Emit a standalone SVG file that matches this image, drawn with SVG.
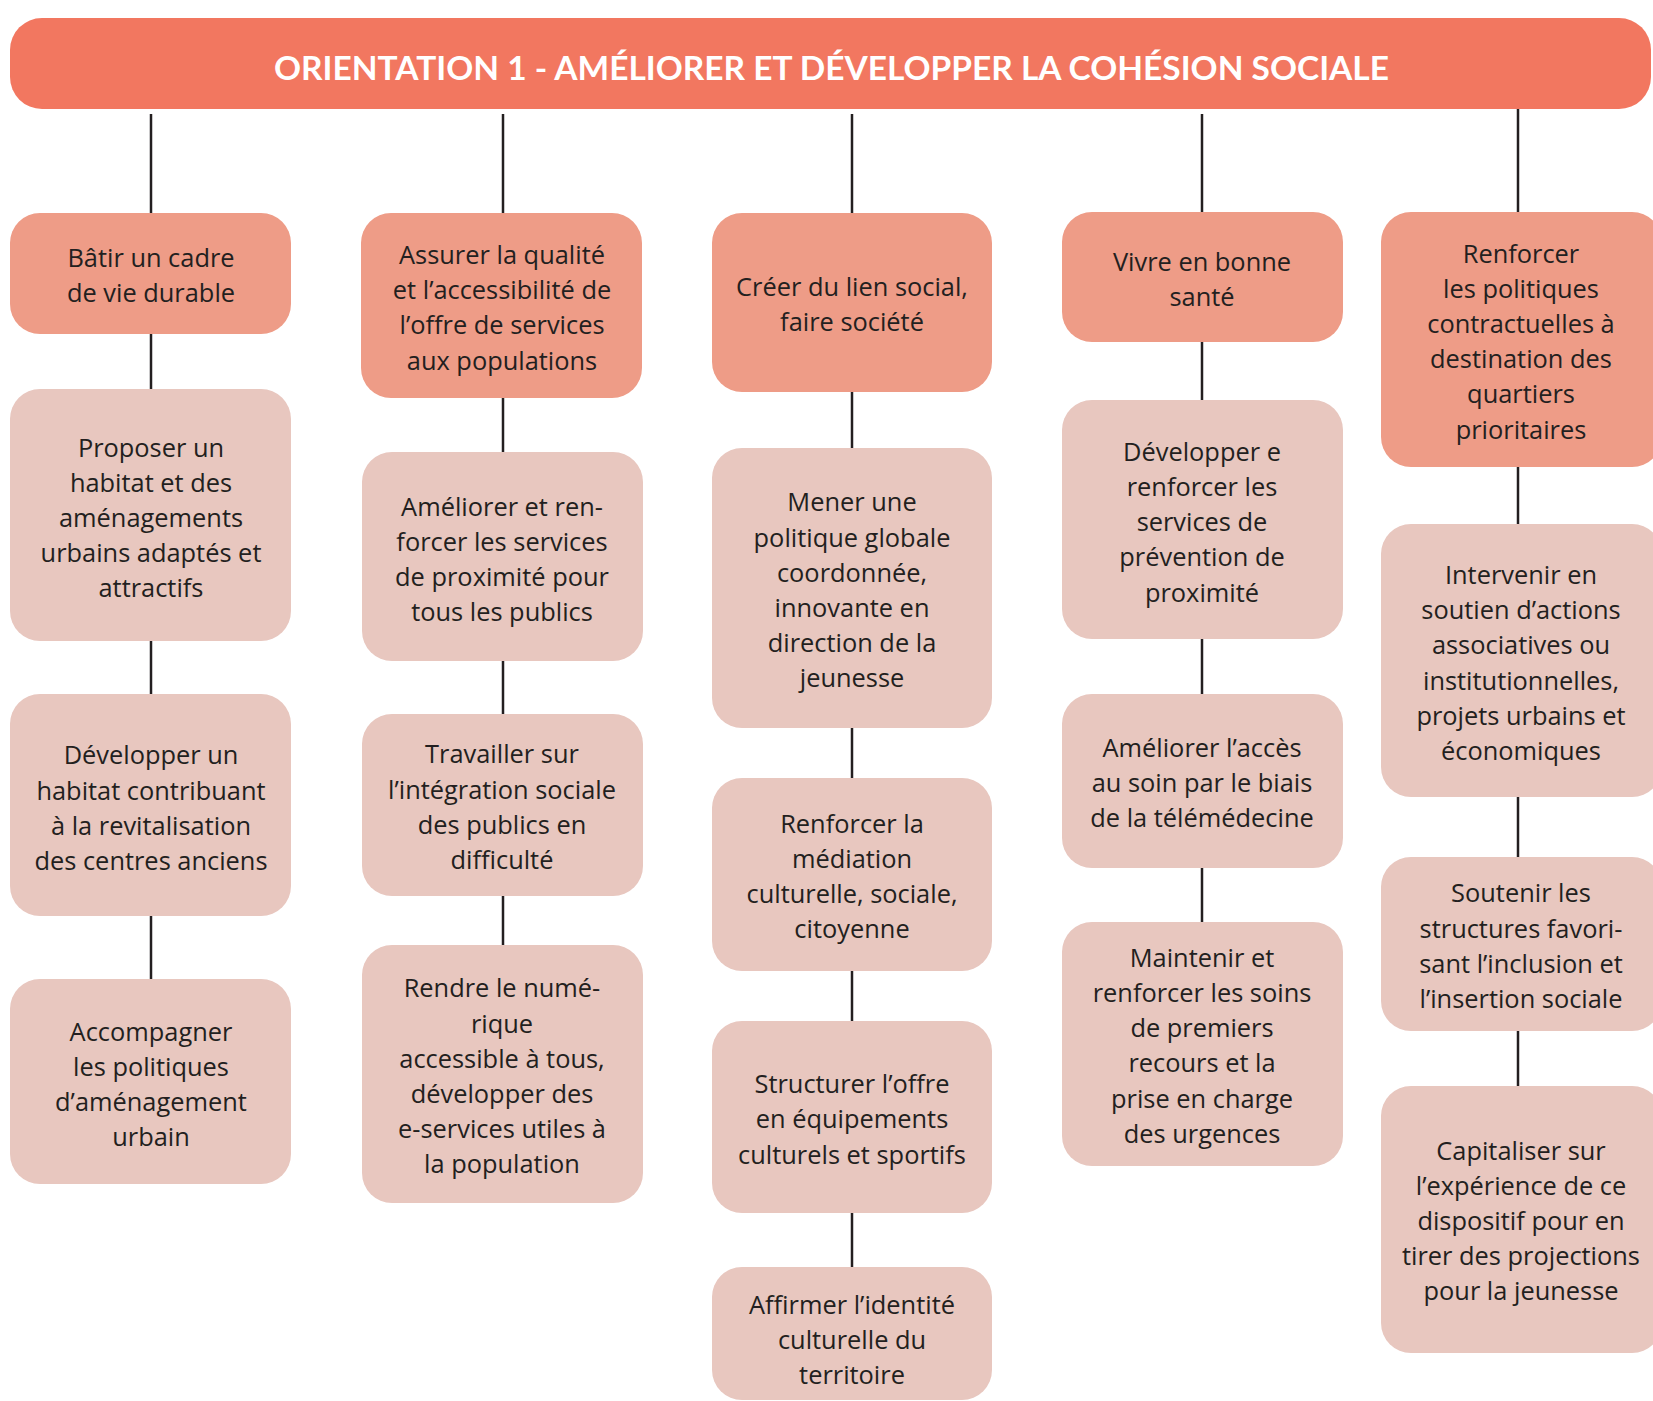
<svg xmlns="http://www.w3.org/2000/svg" width="1653" height="1401" viewBox="0 0 1653 1401">
<style>
.hdr{fill:#F27760}
.l1{fill:#EE9C87}
.l2{fill:#E8C7BF}
.t{font-family:"Open Sans","Liberation Sans",sans-serif;font-size:25.4px;fill:#231F20;text-anchor:middle}
.ht{font-family:Lato,"Liberation Sans",sans-serif;font-weight:700;font-size:32px;fill:#FFFFFF;text-anchor:middle}
.c line{stroke:#231F20;stroke-width:2.5}
</style>
<rect width="1653" height="1401" fill="#FFFFFF"/>
<g class="c" id="connectors">
<line x1="151" y1="114" x2="151" y2="213"/><line x1="151" y1="334" x2="151" y2="389"/><line x1="151" y1="641" x2="151" y2="694"/><line x1="151" y1="916" x2="151" y2="979"/>
<line x1="503" y1="114" x2="503" y2="213"/><line x1="503" y1="398" x2="503" y2="452"/><line x1="503" y1="661" x2="503" y2="714"/><line x1="503" y1="896" x2="503" y2="945"/>
<line x1="852" y1="114" x2="852" y2="213"/><line x1="852" y1="392" x2="852" y2="448"/><line x1="852" y1="728" x2="852" y2="778"/><line x1="852" y1="971" x2="852" y2="1021"/><line x1="852" y1="1213" x2="852" y2="1267"/>
<line x1="1202" y1="114" x2="1202" y2="212"/><line x1="1202" y1="342" x2="1202" y2="400"/><line x1="1202" y1="639" x2="1202" y2="694"/><line x1="1202" y1="868" x2="1202" y2="922"/>
<line x1="1518" y1="109" x2="1518" y2="212"/><line x1="1518" y1="467" x2="1518" y2="524"/><line x1="1518" y1="797" x2="1518" y2="857"/><line x1="1518" y1="1031" x2="1518" y2="1086"/>
</g>
<g id="header">
<rect class="hdr" x="10" y="18" width="1641" height="91" rx="32"/>
<text class="ht" x="831.5" y="80" textLength="1115" lengthAdjust="spacingAndGlyphs">ORIENTATION 1 - AMÉLIORER ET DÉVELOPPER LA COHÉSION SOCIALE</text>
</g>
<g id="b1"><rect class="l1" x="10" y="213" width="281" height="121" rx="30"/>
<text class="t"><tspan x="151" y="266.7">Bâtir un cadre</tspan><tspan x="151" y="301.9">de vie durable</tspan></text></g>
<g id="b2"><rect class="l2" x="10" y="389" width="281" height="252" rx="30"/>
<text class="t"><tspan x="151" y="456.5">Proposer un</tspan><tspan x="151" y="491.7">habitat et des</tspan><tspan x="151" y="526.9">aménagements</tspan><tspan x="151" y="562.1">urbains adaptés et</tspan><tspan x="151" y="597.3">attractifs</tspan></text></g>
<g id="b3"><rect class="l2" x="10" y="694" width="281" height="222" rx="30"/>
<text class="t"><tspan x="151" y="764.3">Développer un</tspan><tspan x="151" y="799.5">habitat contribuant</tspan><tspan x="151" y="834.7">à la revitalisation</tspan><tspan x="151" y="869.9">des centres anciens</tspan></text></g>
<g id="b4"><rect class="l2" x="10" y="979" width="281" height="205" rx="30"/>
<text class="t"><tspan x="151" y="1040.5">Accompagner</tspan><tspan x="151" y="1075.7">les politiques</tspan><tspan x="151" y="1110.9">d’aménagement</tspan><tspan x="151" y="1146.1">urbain</tspan></text></g>
<g id="a1"><rect class="l1" x="361" y="213" width="281" height="185" rx="30"/>
<text class="t"><tspan x="502" y="264">Assurer la qualité</tspan><tspan x="502" y="299.2">et l’accessibilité de</tspan><tspan x="502" y="334.4">l’offre de services</tspan><tspan x="502" y="369.6">aux populations</tspan></text></g>
<g id="a2"><rect class="l2" x="362" y="452" width="281" height="209" rx="30"/>
<text class="t"><tspan x="502" y="515.5">Améliorer et ren-</tspan><tspan x="502" y="550.7">forcer les services</tspan><tspan x="502" y="585.9">de proximité pour</tspan><tspan x="502" y="621.1">tous les publics</tspan></text></g>
<g id="a3"><rect class="l2" x="362" y="714" width="281" height="182" rx="30"/>
<text class="t"><tspan x="502" y="763.3">Travailler sur</tspan><tspan x="502" y="798.5">l’intégration sociale</tspan><tspan x="502" y="833.7">des publics en</tspan><tspan x="502" y="868.9">difficulté</tspan></text></g>
<g id="a4"><rect class="l2" x="362" y="945" width="281" height="258" rx="30"/>
<text class="t"><tspan x="502" y="997.3">Rendre le numé-</tspan><tspan x="502" y="1032.5">rique</tspan><tspan x="502" y="1067.7">accessible à tous,</tspan><tspan x="502" y="1102.9">développer des</tspan><tspan x="502" y="1138.1">e-services utiles à</tspan><tspan x="502" y="1173.3">la population</tspan></text></g>
<g id="c1"><rect class="l1" x="712" y="213" width="280" height="179" rx="30"/>
<text class="t"><tspan x="852" y="296.2">Créer du lien social,</tspan><tspan x="852" y="331.4">faire société</tspan></text></g>
<g id="c2"><rect class="l2" x="712" y="448" width="280" height="280" rx="30"/>
<text class="t"><tspan x="852" y="511.3">Mener une</tspan><tspan x="852" y="546.5">politique globale</tspan><tspan x="852" y="581.7">coordonnée,</tspan><tspan x="852" y="616.9">innovante en</tspan><tspan x="852" y="652.1">direction de la</tspan><tspan x="852" y="687.3">jeunesse</tspan></text></g>
<g id="c3"><rect class="l2" x="712" y="778" width="280" height="193" rx="30"/>
<text class="t"><tspan x="852" y="832.8">Renforcer la</tspan><tspan x="852" y="868">médiation</tspan><tspan x="852" y="903.2">culturelle, sociale,</tspan><tspan x="852" y="938.4">citoyenne</tspan></text></g>
<g id="c4"><rect class="l2" x="712" y="1021" width="280" height="192" rx="30"/>
<text class="t"><tspan x="852" y="1093.2">Structurer l’offre</tspan><tspan x="852" y="1128.4">en équipements</tspan><tspan x="852" y="1163.6">culturels et sportifs</tspan></text></g>
<g id="c5"><rect class="l2" x="712" y="1267" width="280" height="133" rx="30"/>
<text class="t"><tspan x="852" y="1313.5">Affirmer l’identité</tspan><tspan x="852" y="1348.7">culturelle du</tspan><tspan x="852" y="1383.9">territoire</tspan></text></g>
<g id="d1"><rect class="l1" x="1062" y="212" width="281" height="130" rx="30"/>
<text class="t"><tspan x="1202" y="270.9">Vivre en bonne</tspan><tspan x="1202" y="306.1">santé</tspan></text></g>
<g id="d2"><rect class="l2" x="1062" y="400" width="281" height="239" rx="30"/>
<text class="t"><tspan x="1202" y="460.7">Développer e</tspan><tspan x="1202" y="495.9">renforcer les</tspan><tspan x="1202" y="531.1">services de</tspan><tspan x="1202" y="566.3">prévention de</tspan><tspan x="1202" y="601.5">proximité</tspan></text></g>
<g id="d3"><rect class="l2" x="1062" y="694" width="281" height="174" rx="30"/>
<text class="t"><tspan x="1202" y="756.9">Améliorer l’accès</tspan><tspan x="1202" y="792.1">au soin par le biais</tspan><tspan x="1202" y="827.3">de la télémédecine</tspan></text></g>
<g id="d4"><rect class="l2" x="1062" y="922" width="281" height="244" rx="30"/>
<text class="t"><tspan x="1202" y="966.7">Maintenir et</tspan><tspan x="1202" y="1001.9">renforcer les soins</tspan><tspan x="1202" y="1037.1">de premiers</tspan><tspan x="1202" y="1072.3">recours et la</tspan><tspan x="1202" y="1107.5">prise en charge</tspan><tspan x="1202" y="1142.7">des urgences</tspan></text></g>
<g id="e1"><rect class="l1" x="1381" y="212" width="281" height="255" rx="30"/>
<text class="t"><tspan x="1521" y="262.5">Renforcer</tspan><tspan x="1521" y="297.7">les politiques</tspan><tspan x="1521" y="332.9">contractuelles à</tspan><tspan x="1521" y="368.1">destination des</tspan><tspan x="1521" y="403.3">quartiers</tspan><tspan x="1521" y="438.5">prioritaires</tspan></text></g>
<g id="e2"><rect class="l2" x="1381" y="524" width="281" height="273" rx="30"/>
<text class="t"><tspan x="1521" y="584">Intervenir en</tspan><tspan x="1521" y="619.2">soutien d’actions</tspan><tspan x="1521" y="654.4">associatives ou</tspan><tspan x="1521" y="689.6">institutionnelles,</tspan><tspan x="1521" y="724.8">projets urbains et</tspan><tspan x="1521" y="760">économiques</tspan></text></g>
<g id="e3"><rect class="l2" x="1381" y="857" width="281" height="174" rx="30"/>
<text class="t"><tspan x="1521" y="902.4">Soutenir les</tspan><tspan x="1521" y="937.6">structures favori-</tspan><tspan x="1521" y="972.8">sant l’inclusion et</tspan><tspan x="1521" y="1008">l’insertion sociale</tspan></text></g>
<g id="e4"><rect class="l2" x="1381" y="1086" width="281" height="267" rx="30"/>
<text class="t"><tspan x="1521" y="1159.6">Capitaliser sur</tspan><tspan x="1521" y="1194.8">l’expérience de ce</tspan><tspan x="1521" y="1230">dispositif pour en</tspan><tspan x="1521" y="1265.2">tirer des projections</tspan><tspan x="1521" y="1300.4">pour la jeunesse</tspan></text></g>
</svg>
